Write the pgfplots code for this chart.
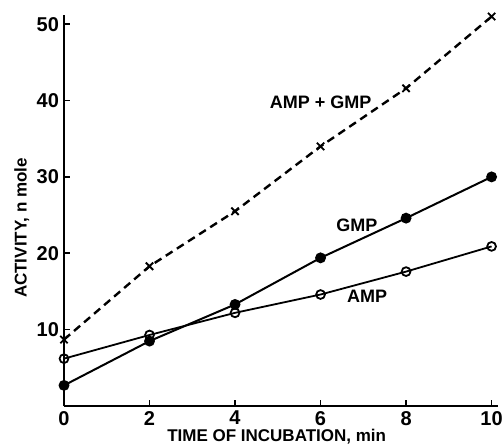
\documentclass[border=0pt]{standalone}
\usepackage{fontspec}
\setmainfont{Liberation Sans}
\usepackage{pgfplots}
\pgfplotsset{compat=1.18}
\begin{document}
\begin{tikzpicture}
\path[use as bounding box] (-32pt,-20pt) rectangle (219.5pt,203pt);
\begin{axis}[
  scale only axis,
  width=217pt, height=195.5pt,
  xmin=0, xmax=10.15, ymin=0, ymax=51.2,
  axis lines=left,
  axis line style={-, line width=1pt},
  xtick={0,2,4,6,8,10},
  ytick={10,20,30,40,50},
  tick align=inside,
  major tick length=3pt,
  tick style={line width=0.8pt, black},
  /pgf/number format/assume math mode=true,
  ticklabel style={font=\fontsize{10}{12}\selectfont\bfseries},
  xticklabel style={yshift=1pt},
  yticklabel style={xshift=1pt},
  xlabel={TIME OF INCUBATION, min},
  ylabel={ACTIVITY, n mole},
  label style={font=\fontsize{8.5}{10}\selectfont\bfseries},
  xlabel style={at={(axis description cs:0.49,-0.079)}, anchor=center},
  ylabel style={at={(axis description cs:-0.097,0.455)}, anchor=center, rotate=0},
  clip=false,
]
\addplot[black, line width=1.2pt, dash pattern=on 4pt off 2.6pt,
  mark=x, mark size=2.6pt, mark options={solid, line width=0.9pt}]
  coordinates {(0,8.7) (2,18.3) (4,25.5) (6,34.0) (8,41.6) (10,51.0)};
\addplot[black, line width=1pt, mark=*, mark size=2.2pt, mark options={fill=black}]
  coordinates {(0,2.7) (2,8.5) (4,13.3) (6,19.4) (8,24.6) (10,30.0)};
\addplot[black, line width=0.9pt, mark=o, mark size=2.2pt, mark options={fill=white, line width=0.9pt}]
  coordinates {(0,6.2) (2,9.3) (4,12.2) (6,14.6) (8,17.6) (10,20.9)};
\node[font=\fontsize{9}{11}\selectfont\bfseries] at (axis cs:6.0,39.8) {AMP + GMP};
\node[font=\fontsize{9}{11}\selectfont\bfseries] at (axis cs:6.85,23.7) {GMP};
\node[font=\fontsize{9}{11}\selectfont\bfseries] at (axis cs:7.09,14.3) {AMP};
\end{axis}
\end{tikzpicture}
\end{document}
